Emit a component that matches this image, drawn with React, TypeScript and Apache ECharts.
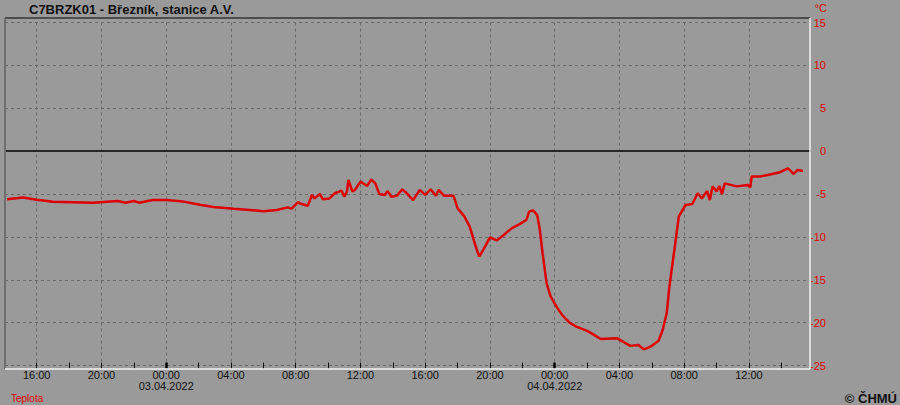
import { useEffect, useRef } from "react";
import * as echarts from "echarts";

const chartTitle = "C7BRZK01 - Březník, stanice A.V.";
const seriesName = "Teplota";
const unitLabel = "°C";
const copyrightText = "© ČHMÚ";
const dayLabels = ["02.04.2022", "03.04.2022", "04.04.2022"];

const times = [
  "02.04 14:10", "02.04 15:10", "02.04 16:00", "02.04 17:00", "02.04 19:30", "02.04 21:00",
  "02.04 21:30", "02.04 22:00", "02.04 22:20", "02.04 23:10", "03.04 00:00", "03.04 01:00",
  "03.04 02:05", "03.04 02:55", "03.04 04:10", "03.04 05:10", "03.04 06:00", "03.04 06:50",
  "03.04 07:30", "03.04 07:45", "03.04 08:10", "03.04 08:15", "03.04 08:45", "03.04 09:00",
  "03.04 09:10", "03.04 09:30", "03.04 09:40", "03.04 10:05", "03.04 10:25", "03.04 10:50",
  "03.04 11:00", "03.04 11:10", "03.04 11:15", "03.04 11:30", "03.04 11:40", "03.04 12:00",
  "03.04 12:25", "03.04 12:40", "03.04 12:55", "03.04 13:10", "03.04 13:30", "03.04 13:40",
  "03.04 13:55", "03.04 14:15", "03.04 14:35", "03.04 14:50", "03.04 15:15", "03.04 15:40",
  "03.04 16:00", "03.04 16:20", "03.04 16:40", "03.04 16:50", "03.04 17:10", "03.04 17:45",
  "03.04 18:00", "03.04 18:25", "03.04 18:45", "03.04 19:05", "03.04 19:20", "03.04 19:35",
  "03.04 20:00", "03.04 20:25", "03.04 20:50", "03.04 21:20", "03.04 21:50", "03.04 22:15",
  "03.04 22:25", "03.04 22:40", "03.04 22:55", "03.04 23:05", "03.04 23:15", "03.04 23:30",
  "03.04 23:45", "04.04 00:10", "04.04 00:30", "04.04 00:55", "04.04 01:20", "04.04 02:00",
  "04.04 02:20", "04.04 02:50", "04.04 03:50", "04.04 04:40", "04.04 05:10", "04.04 05:30",
  "04.04 05:55", "04.04 06:25", "04.04 06:40", "04.04 06:55", "04.04 07:05", "04.04 07:20",
  "04.04 07:30", "04.04 07:40", "04.04 08:05", "04.04 08:30", "04.04 08:50", "04.04 09:05",
  "04.04 09:25", "04.04 09:35", "04.04 09:45", "04.04 10:00", "04.04 10:10", "04.04 10:20",
  "04.04 10:30", "04.04 11:15", "04.04 11:55", "04.04 12:05", "04.04 12:10", "04.04 12:40",
  "04.04 13:05", "04.04 13:55", "04.04 14:25", "04.04 14:45", "04.04 15:00", "04.04 15:20",
];

const temps = [
  -5.6, -5.4, -5.65, -5.9, -6.0, -5.8,
  -6.0, -5.8, -6.0, -5.7, -5.7, -5.85,
  -6.25, -6.5, -6.7, -6.85, -7.0, -6.85,
  -6.55, -6.7, -5.9, -6.1, -6.35, -5.1,
  -5.5, -5.0, -5.6, -5.5, -4.9, -4.6,
  -5.3, -4.7, -3.35, -4.7, -4.5, -3.55,
  -4.05, -3.3, -3.75, -5.0, -5.1, -4.65,
  -5.3, -5.2, -4.45, -4.85, -5.7, -4.5,
  -5.1, -4.45, -5.2, -4.5, -5.2, -5.2,
  -6.65, -7.6, -8.8, -10.9, -12.3, -11.5,
  -10.05, -10.4, -9.8, -9.0, -8.5, -8.0,
  -7.05, -6.9, -7.45, -9.2, -11.9, -15.4,
  -16.95, -18.3, -19.2, -20.0, -20.45, -20.95,
  -21.3, -21.9, -21.8, -22.7, -22.6, -23.1,
  -22.8, -22.1, -20.85, -18.9, -15.8, -12.3,
  -9.97, -7.6, -6.27, -6.15, -4.9, -5.5,
  -4.65, -5.7, -4.1, -4.7, -4.05, -5.0,
  -3.75, -4.1, -3.95, -4.2, -2.95, -2.95,
  -2.8, -2.45, -2.0, -2.65, -2.2, -2.3,
];

// hours since 02.04.2022 00:00
const xMin = 14.04;
const xMax = 63.77;
const labelHours = [16, 20, 24, 28, 32, 36, 40, 44, 48, 52, 56, 60];
const tickHours = [16, 18, 20, 22, 24, 26, 28, 30, 32, 34, 36, 38, 40, 42, 44, 46, 48, 50, 52, 54, 56, 58, 60, 62];
const midnightHours = [24, 48];
const yMin = -25;
const yMax = 15;
const yStep = 5;

const FONT = "'Liberation Sans', Arial, sans-serif";

function toHours(s: string): number {
  const [dm, hm] = s.split(" ");
  const day = parseInt(dm.split(".")[0], 10) - 2;
  const [h, m] = hm.split(":").map((v) => parseInt(v, 10));
  return day * 24 + h + m / 60;
}

function fmtHour(v: number): string {
  const d = Math.floor(v / 24 + 1e-9);
  const h = Math.round(v - d * 24);
  const hh = String(h).padStart(2, "0") + ":00";
  return h === 0 ? hh + "\n" + dayLabels[d] : hh;
}

export default function App() {
  const ref = useRef<HTMLDivElement>(null);

  useEffect(() => {
    if (!ref.current) return;
    const chart = echarts.init(ref.current, undefined, { renderer: "svg" });
    const pts = times.map((t, i) => [toHours(t), temps[i]]);

    const gridLeft = 5;
    const gridRight = 90;
    const gridTop = 22.6;
    const gridBottom = 39.4;
    const W = 900;
    const fx1 = gridLeft;
    const fx2 = W - gridRight;
    const fy1 = 18;
    const fy2 = 369;

    const option: any = {
      animation: false,
      backgroundColor: "#9a9a9a",
      textStyle: { fontFamily: FONT },
      title: {
        text: chartTitle,
        left: 24,
        top: -2,
        textStyle: { fontFamily: FONT, fontSize: 13, fontWeight: "bold", color: "#111" },
      },
      legend: {
        data: [seriesName],
        left: 1,
        top: 386,
        icon: "none",
        itemWidth: 0,
        itemGap: 0,
        selectedMode: false,
        textStyle: { color: "#e00000", fontSize: 10, fontFamily: FONT },
      },
      grid: { left: gridLeft, right: gridRight, top: gridTop, bottom: gridBottom },
      xAxis: [
        {
          type: "value",
          min: xMin,
          max: xMax,
          position: "bottom",
          axisLine: { show: true, lineStyle: { color: "#3c3c3c", width: 2 } },
          axisTick: { show: false, customValues: labelHours },
          axisLabel: {
            customValues: labelHours,
            formatter: fmtHour,
            color: "#111",
            fontSize: 11,
            lineHeight: 11,
            margin: 4,
            fontFamily: FONT,
          },
          splitLine: { show: true, lineStyle: { color: "#6a6a6a", type: [3, 3], width: 1 } },
        },
        {
          type: "value",
          min: xMin,
          max: xMax,
          position: "bottom",
          offset: -3,
          axisLine: { show: false },
          axisTick: { show: true, customValues: tickHours, length: 6, lineStyle: { color: "#111", width: 1 } },
          axisLabel: { show: false },
          splitLine: { show: false },
        },
        {
          type: "value",
          min: xMin,
          max: xMax,
          position: "bottom",
          offset: -3,
          axisLine: { show: false },
          axisTick: { show: true, customValues: midnightHours, length: 6, lineStyle: { color: "#000", width: 2.5 } },
          axisLabel: { show: false },
          splitLine: { show: false },
        },
      ],
      yAxis: {
        type: "value",
        position: "right",
        min: yMin,
        max: yMax,
        interval: yStep,
        axisLine: { show: false },
        axisTick: { show: false },
        axisLabel: { color: "#e00000", align: "right", margin: 16, fontSize: 11, fontFamily: FONT },
        splitLine: { show: true, lineStyle: { color: "#6a6a6a", type: [3, 3], width: 1 } },
      },
      series: [
        {
          type: "line",
          name: seriesName,
          data: pts,
          xAxisIndex: 0,
          showSymbol: false,
          symbol: "none",
          lineStyle: { color: "#dd0000", width: 2.5 },
          itemStyle: { color: "#dd0000" },
          z: 5,
          markLine: {
            silent: true,
            symbol: "none",
            label: { show: false },
            lineStyle: { color: "#222", width: 1.5, type: "solid" },
            data: [{ yAxis: 0 }],
          },
        },
      ],
      graphic: [
        { type: "line", shape: { x1: fx1, y1: fy1, x2: fx2, y2: fy1 }, style: { stroke: "#333", lineWidth: 1.5 }, z: 10 },
        { type: "line", shape: { x1: fx1, y1: fy1, x2: fx1, y2: fy2 }, style: { stroke: "#6e6e6e", lineWidth: 2 }, z: 10 },
        { type: "line", shape: { x1: fx2, y1: fy1, x2: fx2, y2: fy2 }, style: { stroke: "#f2f2f2", lineWidth: 1.5 }, z: 10 },
        { type: "line", shape: { x1: fx1, y1: fy2, x2: fx2, y2: fy2 }, style: { stroke: "#f2f2f2", lineWidth: 1.5 }, z: 10 },
        {
          type: "text",
          x: 827,
          y: 8,
          style: { text: unitLabel, fill: "#e00000", font: `11px ${FONT}`, textAlign: "right", textVerticalAlign: "middle" },
          z: 10,
        },
        {
          type: "text",
          x: 897,
          y: 398,
          style: { text: copyrightText, fill: "#111", font: `bold 13px ${FONT}`, textAlign: "right", textVerticalAlign: "middle" },
          z: 10,
        },
      ],
    };

    chart.setOption(option);
    return () => chart.dispose();
  }, []);

  return <div ref={ref} style={{ width: 900, height: 405, position: "absolute", left: 0, top: 0 }} />;
}
